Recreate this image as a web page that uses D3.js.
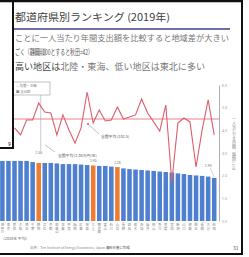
<!DOCTYPE html>
<html>
<head>
<meta charset="utf-8">
<script src="https://cdn.jsdelivr.net/npm/d3@7"></script>
<style>
  html, body { margin: 0; padding: 0; background: #fff; }
  svg { display: block; font-family: "Noto Sans CJK JP", "Noto Sans", sans-serif; }
</style>
</head>
<body>
<svg id="chart" width="249" height="257"></svg>
<script>
// visible part of the ranking (the left part of the slide is cut off)
const prefectures = ["神奈川","東京","愛知","大阪","埼玉","千葉","静岡","兵庫","京都","和歌山",
  "滋賀","奈良","福岡","広島","岐阜","三重","鹿児島","富山","石川","山梨",
  "長野","群馬","栃木","茨城","福井","岡山","香川","愛媛","宮城","新潟",
  "山口","徳島","熊本","長崎","大分","秋田"];
// bars: spending (万円/年)
const spending = [2.65,2.65,2.65,2.65,2.65,2.60,2.56,2.56,2.56,2.54,
  2.51,2.51,2.51,2.49,2.47,2.45,2.43,2.43,2.40,2.38,
  2.32,2.29,2.27,2.25,2.23,2.21,2.18,2.16,2.14,2.10,
  2.07,2.03,2.01,1.99,1.96,1.90];
// line: index, the first two are hidden under the overlay
const indexValues = [null,null,97.9,94.3,102.0,102.0,110.7,106.1,105.6,94.3,
  104.6,96.8,90.1,97.9,116.4,100.4,107.1,101.5,102.0,108.7,
  102.5,103.5,104.6,112.8,105.6,101.0,96.3,109.7,70.1,100.4,
  103.0,101.0,77.8,96.8,112.3,94.3];
const highlighted = ["静岡","三重","山梨"];
const labelled = ["静岡","三重","山梨","秋田"];
const axisTicks = [0,1,2,3,4,5,6];
const avgIndex = 102.5;
const avgSpending = 2.34;

const svg = d3.select("#chart");

const x = d3.scaleBand().domain(prefectures).range([-0.6, 217.2]).paddingInner(0.25).paddingOuter(0.12);
const yBar = d3.scaleLinear().domain([0, 6]).range([221, 85]);
const yLine = d3.scaleLinear().domain([50, 120]).range([221, 85]);
const cx = d => x(d) + x.bandwidth() / 2;
const valOf = p => spending[prefectures.indexOf(p)];

svg.append("rect").attr("width", 249).attr("height", 257).attr("fill", "#fff");

// bars
svg.append("g").selectAll("rect").data(prefectures).join("rect")
  .attr("x", d => x(d)).attr("width", x.bandwidth())
  .attr("y", (d, i) => yBar(spending[i]))
  .attr("height", (d, i) => yBar(0) - yBar(spending[i]))
  .attr("fill", d => highlighted.includes(d) ? "#ee7d2f" : "#4f80d0");

// bar value labels
svg.append("g").selectAll("text").data(labelled).join("text")
  .attr("x", d => d === "秋田" ? cx(d) - 6 : cx(d))
  .attr("y", d => yBar(valOf(d)) - (d === "静岡" ? 9 : d === "秋田" ? 11 : 3))
  .attr("text-anchor", "middle").attr("font-size", 3.6).attr("fill", "#777")
  .text(d => d3.format(".2f")(valOf(d)));
svg.append("line")
  .attr("x1", cx("秋田") - 4).attr("y1", yBar(valOf("秋田")) - 10)
  .attr("x2", cx("秋田")).attr("y2", yBar(valOf("秋田")) - 1)
  .attr("stroke", "#aaa").attr("stroke-width", 0.5);

// vertical marker line next to 静岡
svg.append("line")
  .attr("x1", cx("静岡") + 2).attr("x2", cx("静岡") + 2)
  .attr("y1", 88).attr("y2", yBar(valOf("静岡")) - 12)
  .attr("stroke", "#b8c0d4").attr("stroke-width", 0.8);

// average line of the index
svg.append("line")
  .attr("x1", 13).attr("x2", 219)
  .attr("y1", yLine(avgIndex)).attr("y2", yLine(avgIndex))
  .attr("stroke", "#e4606e").attr("stroke-width", 0.8);

// index line
const line = d3.line()
  .defined(d => d.v != null)
  .x(d => cx(d.p)).y(d => yLine(d.v));
svg.append("path")
  .datum(prefectures.map((p, i) => ({ p, v: indexValues[i] })))
  .attr("d", line).attr("fill", "none")
  .attr("stroke", "#de5d6b").attr("stroke-width", 1.1);

// right axis
const axis = d3.axisRight(yBar).tickValues(axisTicks).tickSize(0).tickPadding(3)
  .tickFormat(d3.format(".1f"));
const ga = svg.append("g").attr("transform", "translate(219,0)").call(axis);
ga.select(".domain").attr("stroke", "#999").attr("stroke-width", 0.8);
ga.selectAll("text").attr("font-size", 3.6).attr("fill", "#999").attr("font-family", "Noto Sans");
svg.append("text")
  .attr("x", 234).attr("y", 117)
  .attr("font-size", 4).attr("fill", "#888")
  .style("writing-mode", "vertical-rl")
  .text("一人当たり支出額（静岡=100）");

// x labels (vertical)
svg.append("g").selectAll("text").data(prefectures).join("text")
  .attr("x", d => cx(d)).attr("y", 223.5)
  .attr("font-size", 3.4).attr("fill", "#888")
  .style("writing-mode", "vertical-rl")
  .text(d => d);

// annotations
svg.append("line").attr("x1", 45).attr("y1", 145).attr("x2", 55).attr("y2", 152)
  .attr("stroke", "#8a94b0").attr("stroke-width", 0.6);
svg.append("text").attr("x", 58).attr("y", 156.5).attr("font-size", 3.8).attr("fill", "#555")
  .text("全国平均 (" + avgSpending + "万円/年)");
svg.append("line").attr("x1", 88).attr("y1", 124).attr("x2", 99).attr("y2", 134)
  .attr("stroke", "#8a94b0").attr("stroke-width", 0.6);
svg.append("circle").attr("cx", 88).attr("cy", 124).attr("r", 0.9).attr("fill", "#c0505c");
svg.append("text").attr("x", 101).attr("y", 137.5).attr("font-size", 3.8).attr("fill", "#555")
  .text("全国平均 (" + avgIndex + ")");

// legend box
svg.append("rect").attr("x", 13).attr("y", 82).attr("width", 37).attr("height", 13)
  .attr("fill", "#fff").attr("stroke", "#999").attr("stroke-width", 0.6);
svg.append("text").attr("x", 16).attr("y", 87).attr("font-size", 3.4).attr("fill", "#888")
  .text("— 指数・右軸");
svg.append("text").attr("x", 16).attr("y", 92.5).attr("font-size", 3.4).attr("fill", "#888")
  .text("■ 支出額");

// title and text
svg.append("text").attr("x", 15).attr("y", 21).attr("font-size", 10.2).attr("fill", "#404040")
  .attr("textLength", 155).attr("lengthAdjust", "spacingAndGlyphs")
  .text("都道府県別ランキング (2019年)");
svg.append("line").attr("x1", 13).attr("x2", 230).attr("y1", 29).attr("y2", 29)
  .attr("stroke", "#6f6fa6").attr("stroke-width", 2);
svg.append("text").attr("x", 15).attr("y", 41).attr("font-size", 8).attr("fill", "#777")
  .attr("textLength", 214).attr("lengthAdjust", "spacingAndGlyphs")
  .text("ことに一人当たり年間支出額を比較すると地域差が大きい");
svg.append("rect").attr("x", 33).attr("y", 48).attr("width", 13).attr("height", 8).attr("fill", "#d2d2d2");
svg.append("text").attr("x", 15).attr("y", 55).attr("font-size", 7.5).attr("fill", "#555")
  .attr("textLength", 78).attr("lengthAdjust", "spacingAndGlyphs")
  .text("ごく（静岡=100とすると秋田=42）");
const l3 = svg.append("text").attr("x", 15).attr("y", 70).attr("font-size", 8.6).attr("fill", "#444")
  .attr("textLength", 190).attr("lengthAdjust", "spacingAndGlyphs");
l3.append("tspan").text("高い地区は");
l3.append("tspan").attr("fill", "#777").text("北陸・東海、低い地区は東北に多い");

// footer
svg.append("text").attr("x", 1).attr("y", 240).attr("font-size", 3.8).attr("fill", "#666")
  .text("（2019年 平均）");
const src = svg.append("text").attr("x", 30).attr("y", 249).attr("font-size", 3.4).attr("fill", "#888");
src.append("tspan").text("出所：The Institute of Energy Economics, Japan ");
src.append("tspan").attr("fill", "#444").text("資料を基に作成");
svg.append("text").attr("x", 233).attr("y", 250).attr("font-size", 5).attr("fill", "#555").text("31");

// window frames
svg.append("rect").attr("x", 0).attr("y", 0).attr("width", 13).attr("height", 148).attr("fill", "#fff");
const frame = svg.append("g").attr("stroke", "#111").attr("fill", "none");
frame.append("line").attr("x1", 0).attr("x2", 243).attr("y1", 1).attr("y2", 1).attr("stroke-width", 2.5);
frame.append("line").attr("x1", 242).attr("x2", 242).attr("y1", 0).attr("y2", 255).attr("stroke-width", 2);
frame.append("line").attr("x1", 0).attr("x2", 243).attr("y1", 254).attr("y2", 254).attr("stroke-width", 2);
frame.append("line").attr("x1", 13).attr("x2", 13).attr("y1", 0).attr("y2", 148).attr("stroke-width", 2);
frame.append("line").attr("x1", 0).attr("x2", 14).attr("y1", 148).attr("y2", 148).attr("stroke-width", 2);
svg.append("text").attr("x", 8).attr("y", 146).attr("font-size", 5).attr("fill", "#222")
  .attr("font-family", "Noto Sans").text("9");
</script>
</body>
</html>
